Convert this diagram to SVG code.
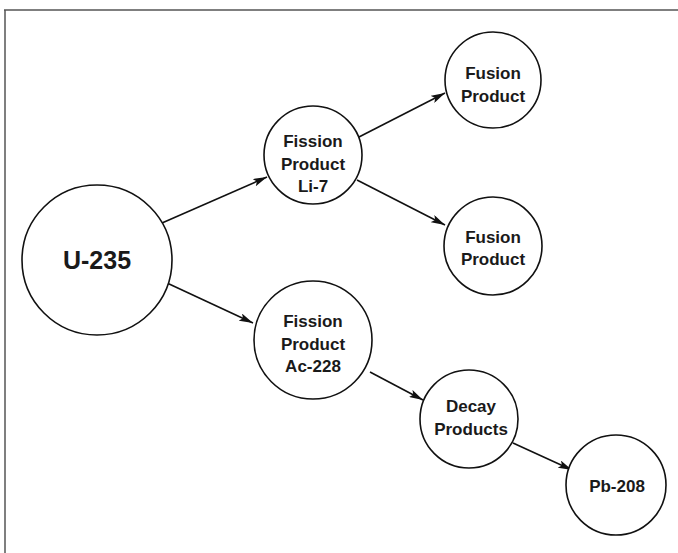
<svg xmlns="http://www.w3.org/2000/svg" width="678" height="553" viewBox="0 0 678 553">
<style>
.node circle{fill:#fff;stroke:#111;stroke-width:1.6}
.node text{font-family:"Liberation Sans",Arial,sans-serif;font-weight:bold;font-size:17px;fill:#1a1a1a;text-anchor:middle}
.edge{stroke:#111;stroke-width:1.6;fill:none;marker-end:url(#ah)}
</style>
<defs>
<marker id="ah" viewBox="0 0 14 8" refX="14" refY="4" markerWidth="14" markerHeight="8" markerUnits="userSpaceOnUse" orient="auto">
<path d="M0,0 L14,4 L0,8 L3,4 Z" fill="#111"/>
</marker>
</defs>
<rect x="0" y="0" width="678" height="553" fill="#fff"/>
<g id="frame" stroke="#555" stroke-width="1.5">
<line x1="4" y1="10" x2="678" y2="10"/>
<line x1="5" y1="10" x2="5" y2="553"/>
</g>
<g id="connectors">
<line class="edge" x1="162" y1="223" x2="267" y2="177"/>
<line class="edge" x1="167" y1="283" x2="253" y2="323"/>
<line class="edge" x1="357" y1="138" x2="445" y2="93"/>
<line class="edge" x1="357" y1="180" x2="445" y2="225"/>
<line class="edge" x1="370" y1="372" x2="423" y2="400"/>
<line class="edge" x1="513" y1="443" x2="572" y2="470"/>
</g>
<g id="u235" class="node">
<circle cx="97" cy="260" r="75"/>
<text x="97" y="269" style="font-size:25px">U-235</text>
</g>
<g id="li7" class="node">
<circle cx="313" cy="155" r="49"/>
<text x="313" y="147">Fission</text>
<text x="313" y="170">Product</text>
<text x="313" y="192">Li-7</text>
</g>
<g id="fusion1" class="node">
<circle cx="493" cy="80" r="48"/>
<text x="493" y="79">Fusion</text>
<text x="493" y="102">Product</text>
</g>
<g id="fusion2" class="node">
<circle cx="493" cy="246" r="49"/>
<text x="493" y="243">Fusion</text>
<text x="493" y="265">Product</text>
</g>
<g id="ac228" class="node">
<circle cx="313" cy="340" r="59"/>
<text x="313" y="327">Fission</text>
<text x="313" y="350">Product</text>
<text x="313" y="372">Ac-228</text>
</g>
<g id="decay" class="node">
<circle cx="469" cy="419" r="49"/>
<text x="471" y="412">Decay</text>
<text x="471" y="435">Products</text>
</g>
<g id="pb208" class="node">
<circle cx="616" cy="485" r="50"/>
<text x="617" y="492">Pb-208</text>
</g>
</svg>
